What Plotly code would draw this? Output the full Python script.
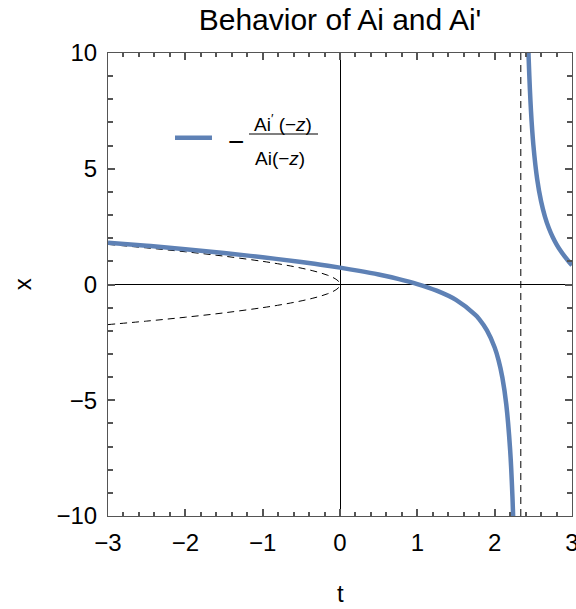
import plotly.graph_objects as go

# Logarithmic derivative of Ai(-z): branch left of the first zero
t_left = [-3.0, -2.5, -2.0, -1.5, -1.0, -0.5, -0.25, 0.0, 0.25, 0.5, 0.75, 1.0,
          1.25, 1.5, 1.75, 1.8, 1.9, 2.0, 2.05, 2.1, 2.15, 2.2, 2.23, 2.25]
f_left = [1.807, 1.673, 1.520, 1.357, 1.176, 0.971, 0.855, 0.729, 0.588, 0.429, 0.243, 0.019,
          -0.268, -0.666, -1.310, -1.498, -1.981, -2.719, -3.265, -4.027, -5.178, -7.138, -9.169, -11.35]

# Branch right of the first zero
t_right = [2.42, 2.44, 2.47, 2.5, 2.55, 2.6, 2.65, 2.7, 2.75, 2.8, 2.85, 2.9, 2.95, 3.0]
f_right = [12.14, 9.732, 7.474, 6.043, 4.541, 3.595, 2.935, 2.442, 2.054, 1.737, 1.468, 1.235, 1.027, 0.830]

# Asymptotic envelope +/- sqrt(-t) for t < 0
t_env = [-3.0, -2.5, -2.0, -1.5, -1.0, -0.81, -0.64, -0.49, -0.36, -0.25, -0.16, -0.09, -0.04, -0.01, 0.0]
env_upper = [1.732, 1.581, 1.414, 1.225, 1.0, 0.9, 0.8, 0.7, 0.6, 0.5, 0.4, 0.3, 0.2, 0.1, 0.0]
env_lower = [-v for v in env_upper]

# First zero of Ai(-z)
a1 = 2.338
pole_y = [-10, 10]

x_range = [-3, 3]
y_range = [-10, 10]

BLUE = "#5E81B5"
FONT = "Liberation Sans"
FRAME = "#555555"
TICK_FONT = dict(family=FONT, size=24, color="black")

fig = go.Figure()

dash_style = dict(color="black", width=1, dash="7px,5px")
fig.add_trace(go.Scatter(x=t_env, y=env_upper, mode="lines", line=dict(shape="spline", **dash_style),
                         showlegend=False, hoverinfo="skip"))
fig.add_trace(go.Scatter(x=t_env, y=env_lower, mode="lines", line=dict(shape="spline", **dash_style),
                         showlegend=False, hoverinfo="skip"))
fig.add_trace(go.Scatter(x=[a1, a1], y=pole_y, mode="lines", line=dash_style,
                         showlegend=False, hoverinfo="skip"))

fig.add_trace(go.Scatter(x=t_left, y=f_left, mode="lines",
                         line=dict(color=BLUE, width=4.5, shape="spline"), showlegend=False))
fig.add_trace(go.Scatter(x=t_right, y=f_right, mode="lines",
                         line=dict(color=BLUE, width=4.5, shape="spline"), showlegend=False))

# Frame axes: inward ticks on all four sides, labels drawn by the companion axes below
frame_axis = dict(
    showticklabels=False,
    showline=True, linecolor=FRAME, linewidth=1.2, mirror="allticks",
    ticks="inside", ticklen=7, tickwidth=1.6, tickcolor=FRAME,
    gridcolor="white",
    zeroline=True, zerolinecolor="black", zerolinewidth=1.3,
)
fig.update_layout(
    xaxis=dict(range=x_range, dtick=1, tick0=-3,
               minor=dict(ticks="inside", ticklen=4, tickwidth=1.6, tickcolor=FRAME, dtick=0.2),
               **frame_axis),
    yaxis=dict(range=y_range, dtick=5, tick0=-10,
               minor=dict(ticks="inside", ticklen=5, tickwidth=1.6, tickcolor=FRAME, dtick=1),
               **frame_axis),
    # Label axes: transparent outward ticks push the numbers away from the frame
    xaxis2=dict(range=x_range, dtick=1, tick0=-3, overlaying="x", anchor="y", side="bottom",
                showgrid=False, zeroline=False, showline=False,
                ticks="outside", ticklen=5, tickcolor="rgba(0,0,0,0)",
                tickfont=TICK_FONT, ticklabeloverflow="allow"),
    yaxis2=dict(range=y_range, dtick=5, tick0=-10, overlaying="y", anchor="x", side="left",
                showgrid=False, zeroline=False, showline=False,
                ticks="outside", ticklen=5, tickcolor="rgba(0,0,0,0)",
                tickfont=TICK_FONT, ticklabeloverflow="allow"),
)
# invisible carrier so the label axes are laid out
fig.add_trace(go.Scatter(x=[], y=[], xaxis="x2", yaxis="y2", showlegend=False, hoverinfo="skip"))

# Hand-built legend entry with the stacked fraction label
legend_font = dict(family=FONT, size=19, color="black")
fig.add_shape(type="line", xref="paper", yref="paper", x0=0.1444, x1=0.2241, y0=0.817, y1=0.817,
              line=dict(color=BLUE, width=4.5))
fig.add_shape(type="line", xref="paper", yref="paper", x0=0.3039, x1=0.4526, y0=0.8251, y1=0.8251,
              line=dict(color="black", width=1.2))
fig.add_annotation(xref="paper", yref="paper", x=0.2759, y=0.8078, text="−", showarrow=False,
                   font=dict(family=FONT, size=28, color="black"), xanchor="center", yanchor="middle")
fig.add_annotation(xref="paper", yref="paper", x=0.3772, y=0.8488, text="Ai<sup>′</sup> (−<i>z</i>)",
                   showarrow=False, font=legend_font, xanchor="center", yanchor="middle")
fig.add_annotation(xref="paper", yref="paper", x=0.3707, y=0.7732, text="Ai(−<i>z</i>)",
                   showarrow=False, font=legend_font, xanchor="center", yanchor="middle")

# Axis labels
fig.add_annotation(xref="paper", yref="paper", x=0.5, y=-0.168, text="t", showarrow=False,
                   font=dict(family=FONT, size=24, color="black"), xanchor="center", yanchor="middle")
fig.add_annotation(xref="paper", yref="paper", x=-0.185, y=0.501, text="x", showarrow=False,
                   textangle=-90, font=dict(family=FONT, size=24, color="black"),
                   xanchor="center", yanchor="middle")

fig.update_layout(
    width=576, height=609,
    margin=dict(l=108, r=4, t=53, b=93, autoexpand=False),
    paper_bgcolor="white", plot_bgcolor="white",
    title=dict(text="Behavior of Ai and Ai'", x=0.5, xref="paper", y=1 - 19 / 609,
               yref="container", xanchor="center", yanchor="middle",
               font=dict(family=FONT, size=30, color="black")),
    showlegend=False,
)

fig.write_html("out.html")
